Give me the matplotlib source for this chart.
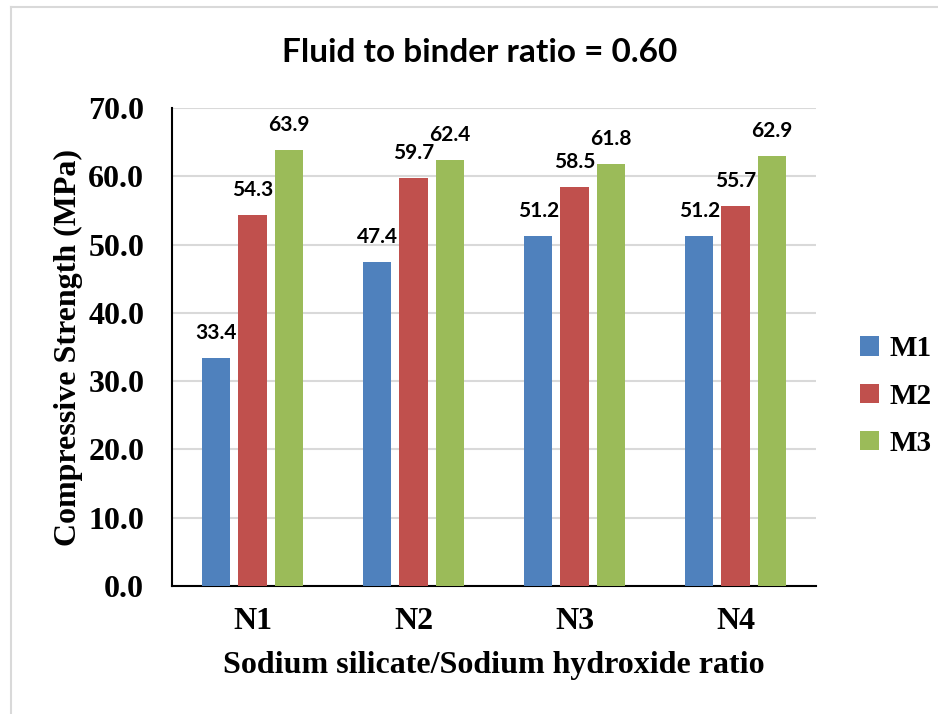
import numpy as np
import matplotlib
matplotlib.use("Agg")
import matplotlib.pyplot as plt
from matplotlib.patches import Patch
from matplotlib.lines import Line2D

# compressive strength (MPa) per mix, for each silicate/hydroxide ratio
ratios = ["N1", "N2", "N3", "N4"]
mixes = ["M1", "M2", "M3"]
m1 = [33.4, 47.4, 51.2, 51.2]
m2 = [54.3, 59.7, 58.5, 55.7]
m3 = [63.9, 62.4, 61.8, 62.9]
yticks = [0, 10, 20, 30, 40, 50, 60, 70]

colors = ["#4F81BD", "#C0504D", "#9BBB59"]
serif = "Liberation Serif"
sans = "Lato"

fig = plt.figure(figsize=(9.38, 7.14), dpi=100)
ax = fig.add_axes([172 / 938, 1 - 586 / 714, 644 / 938, 478 / 714])

x = np.arange(len(ratios))
w = 0.174
step = 0.224
for i, (vals, name) in enumerate(zip([m1, m2, m3], mixes)):
    pos = x + (i - 1) * step
    bars = ax.bar(pos, vals, width=w, color=colors[i], label=name, zorder=3)
    for b, v in zip(bars, vals):
        ax.annotate(f"{v:.1f}", (b.get_x() + b.get_width() / 2, v),
                    xytext=(0, 18), textcoords="offset points",
                    ha="center", va="center", fontsize=15,
                    fontweight="bold", family=sans, zorder=4)

ax.set_xlim(-0.5, 3.5)
ax.set_ylim(0, 70)
ax.set_yticks(yticks)
ax.set_yticklabels([f"{t:.1f}" for t in yticks])
ax.set_xticks(x)
ax.set_xticklabels(ratios)
ax.tick_params(axis="both", length=0)
ax.tick_params(axis="y", pad=20)
ax.tick_params(axis="x", pad=15)
for lab in ax.get_xticklabels() + ax.get_yticklabels():
    lab.set_fontfamily(serif)
    lab.set_fontweight("bold")
    lab.set_fontsize(23)

ax.yaxis.grid(True, color="#d9d9d9", linewidth=1.5, zorder=0)
ax.set_axisbelow(True)
for s in ["top", "right"]:
    ax.spines[s].set_visible(False)
ax.spines["left"].set_linewidth(1.5)
ax.spines["bottom"].set_linewidth(1.5)

ax.set_xlabel("Sodium silicate/Sodium hydroxide ratio", family=serif,
              fontweight="bold", fontsize=23)
ax.set_ylabel("Compressive Strength (MPa)", family=serif,
              fontweight="bold", fontsize=23)
ax.xaxis.set_label_coords(0.5, -0.137)
ax.yaxis.set_label_coords(-0.138, 0.5)

fig.text(480 / 938, 1 - 52 / 714, "Fluid to binder ratio = 0.60",
         ha="center", va="center", family=sans, fontweight="bold", fontsize=24)

handles = [Patch(facecolor=c, label=m) for c, m in zip(colors, mixes)]
leg = fig.legend(handles=handles, loc="center left",
                 bbox_to_anchor=(860 / 938, 1 - 396 / 714), frameon=False,
                 borderaxespad=0, borderpad=0,
                 handlelength=0.65, handleheight=0.65, handletextpad=0.35,
                 labelspacing=0.7, prop={"family": serif, "weight": "bold", "size": 21})

# outer chart frame (only left and top edges fall inside the image)
fig.add_artist(Line2D([11 / 938, 11 / 938], [0, 1 - 7 / 714],
                      transform=fig.transFigure, color="#d9d9d9", linewidth=1.5))
fig.add_artist(Line2D([11 / 938, 1], [1 - 7 / 714, 1 - 7 / 714],
                      transform=fig.transFigure, color="#d9d9d9", linewidth=1.5))

fig.savefig("out.png", dpi=100)
